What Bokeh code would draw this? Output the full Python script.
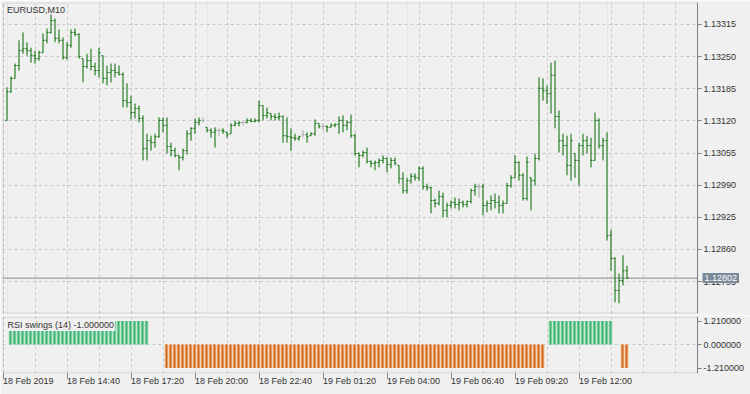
import numpy as np
from bokeh.plotting import figure
from bokeh.layouts import column
from bokeh.models import (Range1d, FixedTicker, PrintfTickFormatter, Grid, Span,
                          Label, ColumnDataSource, BoxAnnotation)
from bokeh.embed import file_html
from bokeh.resources import INLINE

# ---------------- data ----------------
symbol_title = "EURUSD,M10"
indicator_title = "RSI swings (14)"
indicator_value = -1.0

opens = [1.13121, 1.13179, 1.13206, 1.13232, 1.13262, 1.13266, 1.13262, 1.13252, 1.13246, 1.13258,
         1.13283, 1.13299, 1.13323, 1.13287, 1.13283, 1.13248, 1.13273, 1.13299, 1.13295, 1.13246,
         1.13230, 1.13242, 1.13230, 1.13222, 1.13252, 1.13206, 1.13218, 1.13222, 1.13218, 1.13214,
         1.13161, 1.13157, 1.13137, 1.13145, 1.13125, 1.13064, 1.13080, 1.13076, 1.13088, 1.13121,
         1.13111, 1.13068, 1.13060, 1.13050, 1.13046, 1.13060, 1.13094, 1.13105, 1.13117, 1.13121,
         1.13107, 1.13101, 1.13097, 1.13101, 1.13101, 1.13097, 1.13094, 1.13111, 1.13115, 1.13117,
         1.13117, 1.13121, 1.13119, 1.13121, 1.13151, 1.13131, 1.13135, 1.13129, 1.13127, 1.13129,
         1.13090, 1.13088, 1.13086, 1.13084, 1.13092, 1.13092, 1.13090, 1.13094, 1.13115, 1.13109,
         1.13109, 1.13107, 1.13111, 1.13113, 1.13121, 1.13111, 1.13117, 1.13090, 1.13054, 1.13050,
         1.13056, 1.13038, 1.13034, 1.13036, 1.13040, 1.13044, 1.13032, 1.13040, 1.13030, 1.13003,
         1.12979, 1.12999, 1.13008, 1.13005, 1.13024, 1.12987, 1.12985, 1.12959, 1.12953, 1.12967,
         1.12939, 1.12949, 1.12955, 1.12951, 1.12955, 1.12951, 1.12957, 1.12979, 1.12987, 1.12987,
         1.12949, 1.12953, 1.12959, 1.12955, 1.12949, 1.12953, 1.12989, 1.13005, 1.13036, 1.13010,
         1.12963, 1.13005, 1.12999, 1.13044, 1.13186, 1.13181, 1.13175, 1.13212, 1.13129, 1.13080,
         1.13070, 1.13030, 1.13054, 1.13040, 1.13070, 1.13080, 1.13070, 1.13040, 1.13121, 1.13070,
         1.13080, 1.12888, 1.12842, 1.12777, 1.12797, 1.12817]

highs = [1.13188, 1.13210, 1.13236, 1.13283, 1.13299, 1.13279, 1.13268, 1.13262, 1.13262, 1.13297,
         1.13307, 1.13335, 1.13327, 1.13305, 1.13289, 1.13279, 1.13305, 1.13307, 1.13297, 1.13246,
         1.13256, 1.13266, 1.13238, 1.13268, 1.13252, 1.13232, 1.13236, 1.13236, 1.13232, 1.13218,
         1.13196, 1.13171, 1.13155, 1.13151, 1.13131, 1.13094, 1.13090, 1.13094, 1.13127, 1.13127,
         1.13127, 1.13076, 1.13066, 1.13050, 1.13064, 1.13101, 1.13107, 1.13125, 1.13127, 1.13127,
         1.13107, 1.13105, 1.13107, 1.13105, 1.13105, 1.13097, 1.13115, 1.13121, 1.13119, 1.13119,
         1.13125, 1.13125, 1.13125, 1.13161, 1.13151, 1.13147, 1.13135, 1.13135, 1.13137, 1.13131,
         1.13127, 1.13105, 1.13094, 1.13090, 1.13101, 1.13097, 1.13097, 1.13123, 1.13115, 1.13115,
         1.13111, 1.13115, 1.13115, 1.13129, 1.13131, 1.13121, 1.13133, 1.13094, 1.13056, 1.13060,
         1.13066, 1.13040, 1.13040, 1.13044, 1.13050, 1.13046, 1.13046, 1.13046, 1.13030, 1.13016,
         1.13005, 1.13014, 1.13014, 1.13028, 1.13028, 1.12993, 1.12987, 1.12963, 1.12979, 1.12975,
         1.12955, 1.12959, 1.12965, 1.12963, 1.12959, 1.12959, 1.12983, 1.12993, 1.12993, 1.12993,
         1.12959, 1.12969, 1.12973, 1.12969, 1.12959, 1.12995, 1.13010, 1.13050, 1.13038, 1.13014,
         1.13048, 1.13005, 1.13054, 1.13208, 1.13206, 1.13192, 1.13238, 1.13242, 1.13141, 1.13094,
         1.13090, 1.13094, 1.13054, 1.13076, 1.13094, 1.13090, 1.13086, 1.13137, 1.13125, 1.13086,
         1.13097, 1.12900, 1.12844, 1.12811, 1.12848, 1.12827]

lows = [1.13121, 1.13177, 1.13206, 1.13222, 1.13256, 1.13252, 1.13238, 1.13236, 1.13242, 1.13258,
        1.13277, 1.13297, 1.13279, 1.13277, 1.13244, 1.13244, 1.13268, 1.13291, 1.13246, 1.13198,
        1.13226, 1.13222, 1.13212, 1.13208, 1.13196, 1.13192, 1.13198, 1.13208, 1.13212, 1.13147,
        1.13147, 1.13123, 1.13125, 1.13117, 1.13040, 1.13040, 1.13060, 1.13066, 1.13086, 1.13097,
        1.13054, 1.13048, 1.13046, 1.13020, 1.13040, 1.13052, 1.13080, 1.13094, 1.13111, 1.13117,
        1.13097, 1.13086, 1.13066, 1.13090, 1.13094, 1.13086, 1.13094, 1.13109, 1.13109, 1.13111,
        1.13115, 1.13117, 1.13117, 1.13117, 1.13121, 1.13125, 1.13121, 1.13121, 1.13121, 1.13076,
        1.13076, 1.13060, 1.13080, 1.13080, 1.13086, 1.13076, 1.13090, 1.13090, 1.13105, 1.13101,
        1.13097, 1.13107, 1.13107, 1.13094, 1.13097, 1.13101, 1.13086, 1.13050, 1.13026, 1.13046,
        1.13034, 1.13026, 1.13020, 1.13026, 1.13034, 1.13016, 1.13024, 1.13030, 1.12993, 1.12973,
        1.12973, 1.12993, 1.12999, 1.12999, 1.12981, 1.12979, 1.12933, 1.12945, 1.12949, 1.12925,
        1.12925, 1.12943, 1.12943, 1.12939, 1.12945, 1.12945, 1.12953, 1.12969, 1.12965, 1.12929,
        1.12935, 1.12939, 1.12943, 1.12933, 1.12933, 1.12953, 1.12985, 1.13005, 1.12999, 1.12959,
        1.12959, 1.12939, 1.12989, 1.13040, 1.13161, 1.13155, 1.13135, 1.13105, 1.13056, 1.13050,
        1.13010, 1.12999, 1.13005, 1.12989, 1.13050, 1.13054, 1.13026, 1.13040, 1.13064, 1.13040,
        1.12878, 1.12817, 1.12753, 1.12751, 1.12787, 1.12801]

closes = [1.13179, 1.13206, 1.13232, 1.13262, 1.13266, 1.13262, 1.13252, 1.13246, 1.13258, 1.13283,
          1.13299, 1.13323, 1.13287, 1.13283, 1.13248, 1.13273, 1.13299, 1.13295, 1.13250, 1.13230,
          1.13242, 1.13230, 1.13222, 1.13258, 1.13206, 1.13218, 1.13222, 1.13218, 1.13214, 1.13161,
          1.13157, 1.13137, 1.13145, 1.13125, 1.13064, 1.13080, 1.13076, 1.13088, 1.13121, 1.13111,
          1.13068, 1.13060, 1.13050, 1.13046, 1.13060, 1.13094, 1.13105, 1.13117, 1.13121, 1.13121,
          1.13101, 1.13097, 1.13101, 1.13101, 1.13099, 1.13092, 1.13111, 1.13115, 1.13117, 1.13117,
          1.13121, 1.13119, 1.13121, 1.13151, 1.13131, 1.13137, 1.13129, 1.13127, 1.13129, 1.13090,
          1.13088, 1.13086, 1.13084, 1.13088, 1.13092, 1.13088, 1.13094, 1.13115, 1.13109, 1.13109,
          1.13107, 1.13111, 1.13113, 1.13121, 1.13111, 1.13117, 1.13090, 1.13054, 1.13050, 1.13056,
          1.13038, 1.13034, 1.13036, 1.13040, 1.13044, 1.13032, 1.13040, 1.13034, 1.13003, 1.12979,
          1.12999, 1.13008, 1.13005, 1.13024, 1.12987, 1.12985, 1.12959, 1.12953, 1.12967, 1.12939,
          1.12949, 1.12955, 1.12951, 1.12955, 1.12951, 1.12957, 1.12979, 1.12987, 1.12987, 1.12949,
          1.12953, 1.12959, 1.12955, 1.12949, 1.12953, 1.12989, 1.13005, 1.13036, 1.13010, 1.12963,
          1.13036, 1.12999, 1.13044, 1.13186, 1.13181, 1.13175, 1.13212, 1.13129, 1.13080, 1.13070,
          1.13030, 1.13080, 1.13040, 1.13070, 1.13080, 1.13070, 1.13040, 1.13121, 1.13070, 1.13080,
          1.12888, 1.12842, 1.12777, 1.12797, 1.12817, 1.12802]

# RSI swings histogram (one value per bar, 0 = empty)
swing_hist = ([0.0] + [1.21] * 35 + [0.0] * 4 + [-1.21] * 95 + [0.0]
              + [1.21] * 16 + [0.0] * 2 + [-1.21] * 2)

price_ticks = [1.12795, 1.12860, 1.12925, 1.12990, 1.13055, 1.13120, 1.13185, 1.13250, 1.13315]
swing_ticks = [-1.21, 0.0, 1.21]
time_tick_bars = [-1, 15, 31, 47, 63, 79, 95, 111, 127, 143]
time_tick_labels = ["18 Feb 2019", "18 Feb 14:40", "18 Feb 17:20", "18 Feb 20:00", "18 Feb 22:40",
                    "19 Feb 01:20", "19 Feb 04:00", "19 Feb 06:40", "19 Feb 09:20", "19 Feb 12:00"]

# ---------------- style / layout ----------------
BG = "#f0f0f0"
FRAME = "#7f7f7f"
GRID = "#c8c8c8"
TXT = "#333333"
FONT = "Liberation Sans"
FS = "9px"
BAR_COL = "#006a00"
DOJI_COL = "#a8a8a8"
TAG_COL = "#7a8a9b"
UP_DARK, UP_LIGHT = "#3cb371", "#b4e2c6"
DN_DARK, DN_LIGHT = "#d2691e", "#f6cba6"

W = 750
LEFT = 2
CHART_W = 695            # width of the chart area; the price scale sits to its right
PX_PER_BAR = 4.0
x_start = -1.125
x_end = x_start + (W - LEFT) / PX_PER_BAR
axis_x = x_start + CHART_W / PX_PER_BAR
xr = Range1d(x_start, x_end)

H1, TOP1, BOT1 = 315, 2, 2
yr1 = Range1d(1.127304, 1.133595)
H2, TOP2, BOT2 = 79, 1, 21
yr2 = Range1d(-1.493, 1.442)

px1 = (yr1.end - yr1.start) / (H1 - TOP1 - BOT1)
px2 = (yr2.end - yr2.start) / (H2 - TOP2 - BOT2)
pxx = 1.0 / PX_PER_BAR


def make_fig(height, yr, top, bottom, x_axis):
    p = figure(width=W, height=height, x_range=xr, y_range=yr, title=None,
               toolbar_location=None, output_backend="svg", tools="",
               min_border_left=LEFT, min_border_right=0,
               min_border_top=top, min_border_bottom=bottom,
               x_axis_location=x_axis, y_axis_location="right")
    p.background_fill_color = BG
    p.border_fill_color = BG
    p.outline_line_color = None
    return p


def style_axis(ax):
    ax.axis_line_color = FRAME
    ax.major_tick_line_color = FRAME
    ax.minor_tick_line_color = None
    ax.major_tick_out = 4
    ax.major_tick_in = 0
    ax.major_label_standoff = 2
    ax.major_label_text_font = FONT
    ax.major_label_text_font_size = FS
    ax.major_label_text_color = TXT


def finish_panel(p, yr, px):
    # blank out grid lines under the price scale, then draw the chart border
    p.add_layout(BoxAnnotation(left=axis_x, right=x_end, fill_color=BG, fill_alpha=1.0,
                               line_color=None, level="underlay"))
    p.add_layout(BoxAnnotation(left=x_start + 0.5 * pxx, right=axis_x,
                               top=yr.end - 0.5 * px, bottom=yr.start + 0.5 * px,
                               fill_alpha=0.0, fill_color=None, line_color=FRAME,
                               line_width=1, level="overlay"))


grid_bars = list(range(-1, int(axis_x) + 1, 8))

# ---------------- main price panel ----------------
p1 = make_fig(H1, yr1, TOP1, BOT1, None)
ya = p1.yaxis[0]
style_axis(ya)
ya.fixed_location = axis_x
ya.ticker = FixedTicker(ticks=price_ticks)
ya.formatter = PrintfTickFormatter(format="%.5f")
p1.ygrid.ticker = FixedTicker(ticks=price_ticks)
p1.ygrid.grid_line_color = GRID
p1.ygrid.grid_line_dash = "3 3"
p1.add_layout(Grid(dimension=0, ticker=FixedTicker(ticks=grid_bars),
                   grid_line_color=GRID, grid_line_dash="3 3"))

last_close = closes[-1]
p1.add_layout(Span(location=last_close, dimension="width", line_color="#8a8a8a",
                   line_width=1, level="underlay"))
finish_panel(p1, yr1, px1)

n = len(closes)
x = np.arange(n, dtype=float)
bar_colors = [DOJI_COL if o == c else BAR_COL for o, c in zip(opens, closes)]
src = ColumnDataSource(dict(x=x, xl=x - 0.375, xr=x + 0.375, o=opens, h=highs,
                            l=lows, c=closes, col=bar_colors))
p1.segment(x0="x", y0="l", x1="x", y1="h", line_color="col", line_width=1, source=src)
p1.segment(x0="xl", y0="o", x1="x", y1="o", line_color="col", line_width=1, source=src)
p1.segment(x0="x", y0="c", x1="xr", y1="c", line_color="col", line_width=1, source=src)

# current-price tag on the price scale
p1.add_layout(Label(x=axis_x + 5.0 * pxx, y=last_close, text=f"{last_close:.5f}",
                    text_font=FONT, text_font_size=FS, text_color="white",
                    text_align="left", text_baseline="middle",
                    background_fill_color=TAG_COL, background_fill_alpha=1.0,
                    padding=2, level="overlay"))
p1.add_layout(Label(x=x_start + 4.5 * pxx, y=yr1.end - 2.5 * px1, text=symbol_title,
                    text_font=FONT, text_font_size=FS, text_color=TXT,
                    text_align="left", text_baseline="top"))

# ---------------- RSI swings panel ----------------
p2 = make_fig(H2, yr2, TOP2, BOT2, "below")
ya2 = p2.yaxis[0]
style_axis(ya2)
ya2.fixed_location = axis_x
ya2.ticker = FixedTicker(ticks=swing_ticks)
ya2.formatter = PrintfTickFormatter(format="%.6f")
p2.ygrid.ticker = FixedTicker(ticks=[0.0])
p2.ygrid.grid_line_color = GRID
p2.ygrid.grid_line_dash = "3 3"

xa = p2.xaxis[0]
style_axis(xa)
xa.axis_line_color = None
xa.major_tick_out = 5
xa.ticker = FixedTicker(ticks=time_tick_bars)
xa.major_label_overrides = {b: t for b, t in zip(time_tick_bars, time_tick_labels)}
xa.major_label_orientation = -1e-9
xa.major_label_standoff = 2
p2.xgrid.ticker = FixedTicker(ticks=grid_bars)
p2.xgrid.grid_line_color = GRID
p2.xgrid.grid_line_dash = "3 3"
finish_panel(p2, yr2, px2)

hist = np.array(swing_hist)
hsrc = ColumnDataSource(dict(
    x=x - 0.125, top=hist,
    light=[UP_LIGHT if v > 0 else DN_LIGHT for v in hist],
    dark=[UP_DARK if v > 0 else DN_DARK for v in hist]))
p2.vbar(x="x", width=1.0, top="top", bottom=0, fill_color="light", line_color=None, source=hsrc)
p2.vbar(x="x", width=0.5, top="top", bottom=0, fill_color="dark", line_color=None, source=hsrc)

p2.add_layout(Label(x=x_start + 4.0 * pxx, y=yr2.end - 2.5 * px2,
                    text=f"{indicator_title} {indicator_value:.6f}",
                    text_font=FONT, text_font_size=FS, text_color=TXT,
                    text_align="left", text_baseline="top",
                    background_fill_color=BG, padding=1))

layout = column(p1, p2, spacing=0)
open("out.html", "w").write(file_html(layout, INLINE))
